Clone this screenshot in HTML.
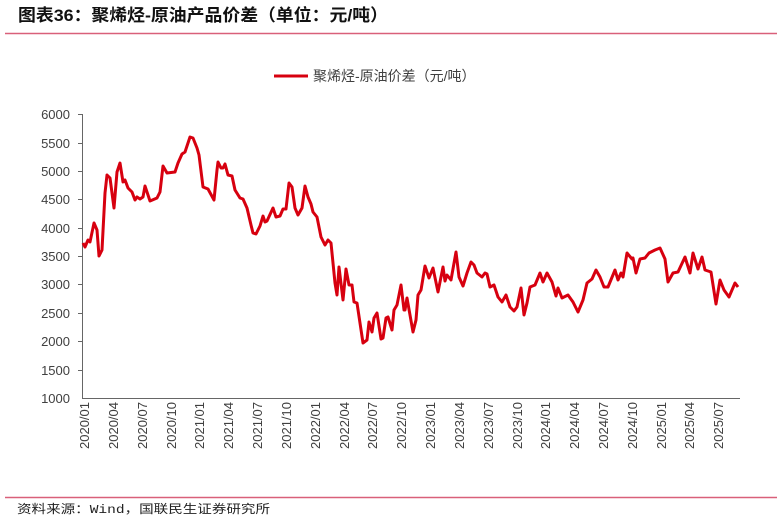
<!DOCTYPE html>
<html><head><meta charset="utf-8"><style>
body{margin:0;background:#fff;width:777px;height:521px;overflow:hidden;font-family:"Liberation Sans","Noto Sans CJK SC",sans-serif}
</style></head><body>
<svg width="777" height="521" xmlns="http://www.w3.org/2000/svg" font-family="Liberation Sans, Noto Sans CJK SC, sans-serif">
<text x="18" y="21" font-size="17" font-weight="bold" fill="#111" textLength="370" lengthAdjust="spacingAndGlyphs">图表36：聚烯烃-原油产品价差（单位：元/吨）</text>
<line x1="5" y1="33.5" x2="777" y2="33.5" stroke="#d9607a" stroke-width="1.5"/>
<line x1="274" y1="76" x2="308" y2="76" stroke="#d7000f" stroke-width="3"/>
<text x="313" y="81" font-size="14" fill="#404040">聚烯烃-原油价差（元/吨）</text>
<g font-size="13" fill="#404040" text-anchor="end">
<text x="70" y="119">6000</text><text x="70" y="148">5500</text><text x="70" y="176">5000</text><text x="70" y="204">4500</text><text x="70" y="233">4000</text><text x="70" y="261">3500</text>
<text x="70" y="289">3000</text><text x="70" y="318">2500</text><text x="70" y="346">2000</text><text x="70" y="375">1500</text><text x="70" y="403">1000</text>
</g>
<g stroke="#666" stroke-width="1">
<line x1="82.5" y1="114" x2="82.5" y2="398"/>
<line x1="82" y1="398.5" x2="740" y2="398.5"/>
<line x1="78" y1="114.5" x2="82" y2="114.5"/><line x1="78" y1="171.5" x2="82" y2="171.5"/><line x1="78" y1="228.5" x2="82" y2="228.5"/><line x1="78" y1="284.5" x2="82" y2="284.5"/><line x1="78" y1="341.5" x2="82" y2="341.5"/>
<line x1="78" y1="143.5" x2="82" y2="143.5"/><line x1="78" y1="199.5" x2="82" y2="199.5"/><line x1="78" y1="256.5" x2="82" y2="256.5"/><line x1="78" y1="313.5" x2="82" y2="313.5"/><line x1="78" y1="370.5" x2="82" y2="370.5"/>
</g>
<polyline fill="none" stroke="#d7000f" stroke-width="3" stroke-linejoin="round" points="83,243 85,247 88,240 90,242 94,223 97,230 99,256 102,250 105,193 107,175 110,178 114,208 117,172 120,163 123,182 125,180 128,188 132,192 135,200 137,197 140,199 143,197 145,186 148,195 150,201 157,198 160,192 163,166 167,173 175,172 178,163 182,154 185,152 190,137 193,138 197,148 199,155 203,187 208,189 214,200 217,170 218,162 221,168 223,168 225,164 228,175 232,176 235,190 240,198 243,199 247,208 251,225 253,233 256,234 260,226 263,216 265,222 267,221 273,208 276,217 280,216 283,209 286,209 289,183 292,187 295,208 298,215 302,208 305,186 308,197 311,204 313,212 317,217 321,237 325,245 328,240 331,243 335,283 337,295 339,267 343,300 346,269 349,285 352,285 354,302 357,303 360,323 363,343 367,340 369,322 372,332 374,318 377,313 381,339 383,338 386,318 388,317 392,330 394,310 397,305 401,285 404,310 405,310 407,298 413,332 416,320 418,295 421,290 425,266 429,278 433,268 438,292 443,267 445,281 447,275 451,280 456,252 459,277 463,286 467,273 471,262 474,265 477,273 482,277 485,273 487,274 490,287 494,285 498,297 502,302 506,295 510,307 514,311 517,307 521,288 524,315 527,303 530,287 535,285 540,273 543,282 547,273 552,282 556,296 558,288 562,298 568,295 573,302 578,312 583,300 587,283 592,279 596,270 600,277 604,287 608,287 615,270 618,280 621,273 623,277 627,253 632,259 633,258 636,273 640,259 645,258 649,253 655,250 660,248 665,259 668,282 673,273 678,272 685,257 690,273 693,253 698,269 702,257 705,270 711,272 716,304 720,280 724,290 729,297 735,283 738,287"/>
<line x1="5" y1="497.5" x2="777" y2="497.5" stroke="#d9607a" stroke-width="1.5"/>
<text x="17" y="513" font-size="12" fill="#222" font-family="Liberation Mono, Noto Sans CJK SC, monospace" textLength="253" lengthAdjust="spacingAndGlyphs">资料来源：Wind，国联民生证券研究所</text>
<g font-size="13" fill="#404040" text-anchor="end">
<text transform="translate(89,402) rotate(-90)">2020/01</text>
<text transform="translate(118,402) rotate(-90)">2020/04</text>
<text transform="translate(147,402) rotate(-90)">2020/07</text>
<text transform="translate(176,402) rotate(-90)">2020/10</text>
<text transform="translate(204,402) rotate(-90)">2021/01</text>
<text transform="translate(233,402) rotate(-90)">2021/04</text>
<text transform="translate(262,402) rotate(-90)">2021/07</text>
<text transform="translate(291,402) rotate(-90)">2021/10</text>
<text transform="translate(320,402) rotate(-90)">2022/01</text>
<text transform="translate(349,402) rotate(-90)">2022/04</text>
<text transform="translate(377,402) rotate(-90)">2022/07</text>
<text transform="translate(406,402) rotate(-90)">2022/10</text>
<text transform="translate(435,402) rotate(-90)">2023/01</text>
<text transform="translate(464,402) rotate(-90)">2023/04</text>
<text transform="translate(493,402) rotate(-90)">2023/07</text>
<text transform="translate(522,402) rotate(-90)">2023/10</text>
<text transform="translate(550,402) rotate(-90)">2024/01</text>
<text transform="translate(579,402) rotate(-90)">2024/04</text>
<text transform="translate(608,402) rotate(-90)">2024/07</text>
<text transform="translate(637,402) rotate(-90)">2024/10</text>
<text transform="translate(666,402) rotate(-90)">2025/01</text>
<text transform="translate(694,402) rotate(-90)">2025/04</text>
<text transform="translate(723,402) rotate(-90)">2025/07</text>
</g>
</svg>
</body></html>
